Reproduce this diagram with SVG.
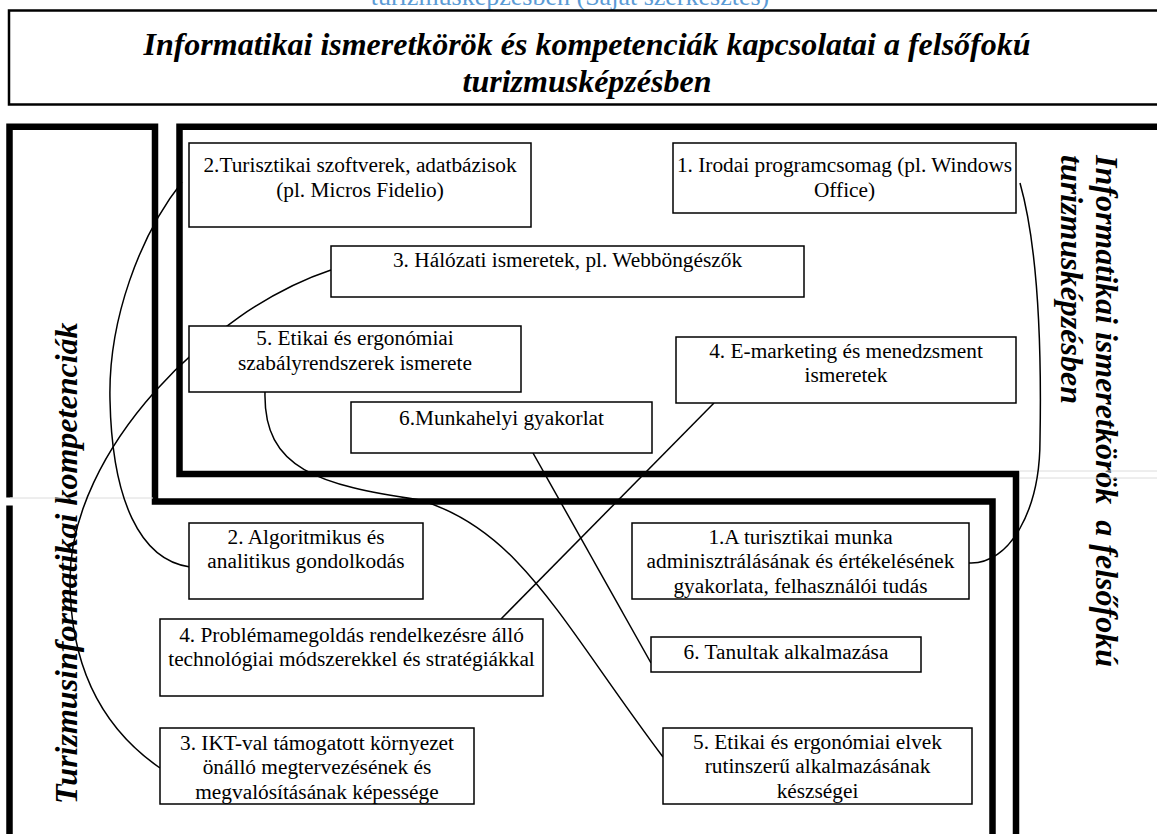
<svg xmlns="http://www.w3.org/2000/svg" width="1157" height="834" viewBox="0 0 1157 834">
<style>
.box{fill:#fff;stroke:#000;stroke-width:1.5}
.t{font-family:"Liberation Serif","Times New Roman",serif;font-size:21.33px;fill:#000;text-anchor:middle}
.frame{fill:none;stroke:#000;stroke-width:6.5;stroke-linejoin:miter}
.conn{fill:none;stroke:#000;stroke-width:1.5}
.big{font-family:"Liberation Serif","Times New Roman",serif;font-size:32px;font-weight:bold;font-style:italic;fill:#000}
.pb{stroke:#dcdcdc;stroke-width:1;fill:none}
</style>
<rect width="1157" height="834" fill="#fff"/>
<text x="570" y="5" font-family="'Liberation Serif','Times New Roman',serif" font-size="26" fill="#5b9bd5" text-anchor="middle">turizmusképzésben (Saját szerkesztés)</text>
<g id="title">
<rect x="9" y="10.5" width="1160" height="94" fill="none" stroke="#000" stroke-width="2.5"/>
<text class="big" x="587" y="55" text-anchor="middle">Informatikai ismeretkörök és kompetenciák kapcsolatai a felsőfokú</text>
<text class="big" x="587" y="92" text-anchor="middle">turizmusképzésben</text>
</g>
<g id="frame-competencies">
<path class="frame" d="M9.5,840 V126.7 H155 V501.5 H992.5 V840"/>
<text class="big" transform="translate(77,804) rotate(-90)">Turizmusinformatikai kompetenciák</text>
</g>
<g id="frame-knowledge">
<path class="frame" d="M1165,126.7 H179.5 V474 H1016 V840"/>
<text class="big" transform="translate(1096,155) rotate(90)" xml:space="preserve">Informatikai ismeretkörök  a felsőfokú</text>
<text class="big" transform="translate(1061,155) rotate(90)">turizmusképzésben</text>
</g>
<g id="page-break">
<rect x="4" y="497.5" width="12" height="8" fill="#fff"/>
<path class="pb" d="M10,498 H153 M1020,471 H1157 M1020,478 H1157"/>
</g>
<g id="connectors">
<path class="conn" d="M182,182 C140,235 108,320 110,400 C112,500 140,560 190,567"/>
<path class="conn" d="M331,270 C210,310 70,450 70,580 C70,670 105,730 160,768"/>
<path class="conn" d="M265,392 C263,470 320,485 420,500 C520,530 560,620 663,757"/>
<path class="conn" d="M533,453 L651,663"/>
<path class="conn" d="M714,403 L501,619"/>
<path class="conn" d="M1020,183 C1036,240 1042,330 1040,440 C1040,510 1010,565 969,563"/>
</g>
<g id="k2">
<rect class="box" x="189" y="143" width="342" height="84"/>
<text class="t" x="360" y="172">2.Turisztikai szoftverek, adatbázisok<tspan x="360" dy="24.5">(pl. Micros Fidelio)</tspan></text>
</g>
<g id="k1">
<rect class="box" x="673" y="143" width="343" height="70"/>
<text class="t" x="844.5" y="172">1. Irodai programcsomag (pl. Windows<tspan x="844.5" dy="24.5">Office)</tspan></text>
</g>
<g id="k3">
<rect class="box" x="331" y="246" width="473" height="51"/>
<text class="t" x="567.5" y="266.5">3. Hálózati ismeretek, pl. Webböngészők</text>
</g>
<g id="k5">
<rect class="box" x="189" y="326" width="332" height="66"/>
<text class="t" x="355" y="345">5. Etikai és ergonómiai<tspan x="355" dy="24.5">szabályrendszerek ismerete</tspan></text>
</g>
<g id="k4">
<rect class="box" x="676" y="337" width="340" height="66"/>
<text class="t" x="846" y="357.5">4. E-marketing és menedzsment<tspan x="846" dy="24.5">ismeretek</tspan></text>
</g>
<g id="k6">
<rect class="box" x="351" y="402" width="301" height="51"/>
<text class="t" x="501.5" y="425">6.Munkahelyi gyakorlat</text>
</g>
<g id="c2">
<rect class="box" x="189" y="523" width="234" height="76"/>
<text class="t" x="306" y="543.5">2. Algoritmikus és<tspan x="306" dy="24.5">analitikus gondolkodás</tspan></text>
</g>
<g id="c1">
<rect class="box" x="632" y="523" width="337" height="76"/>
<text class="t" x="800.5" y="543.5">1.A turisztikai munka<tspan x="800.5" dy="24.5">adminisztrálásának és értékelésének</tspan><tspan x="800.5" dy="24.5">gyakorlata, felhasználói tudás</tspan></text>
</g>
<g id="c4">
<rect class="box" x="160" y="619" width="383" height="77"/>
<text class="t" x="351.5" y="641.5">4. Problémamegoldás rendelkezésre álló<tspan x="351.5" dy="24.5">technológiai módszerekkel és stratégiákkal</tspan></text>
</g>
<g id="c6">
<rect class="box" x="651" y="637" width="270" height="35"/>
<text class="t" x="786" y="658.5">6. Tanultak alkalmazása</text>
</g>
<g id="c3">
<rect class="box" x="160" y="728" width="314" height="76"/>
<text class="t" x="317" y="749.5">3. IKT-val támogatott környezet<tspan x="317" dy="24.5">önálló megtervezésének és</tspan><tspan x="317" dy="24.5">megvalósításának képessége</tspan></text>
</g>
<g id="c5">
<rect class="box" x="663" y="728" width="309" height="76"/>
<text class="t" x="817.5" y="748.5">5. Etikai és ergonómiai elvek<tspan x="817.5" dy="24.5">rutinszerű alkalmazásának</tspan><tspan x="817.5" dy="24.5">készségei</tspan></text>
</g>
</svg>
